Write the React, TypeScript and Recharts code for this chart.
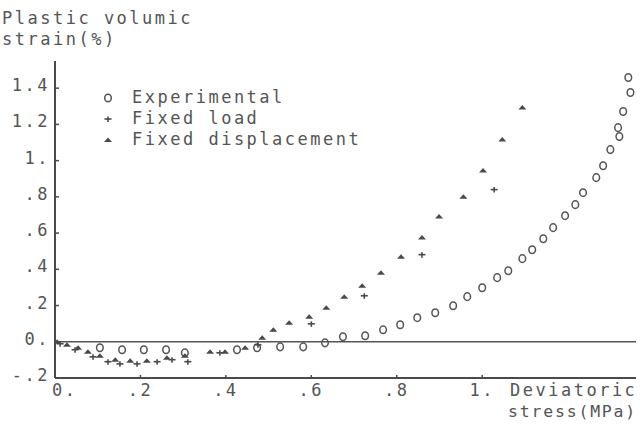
import { ScatterChart, Scatter, XAxis, YAxis, ReferenceLine } from "recharts";

// Experimental points (deviatoric stress MPa, plastic volumic strain %)
const expStress = [0.105, 0.157, 0.208, 0.26, 0.304, 0.426, 0.473, 0.527, 0.581, 0.632, 0.674, 0.726, 0.768, 0.808, 0.848, 0.89, 0.932, 0.965, 1.0, 1.035, 1.061, 1.094, 1.117, 1.143, 1.166, 1.194, 1.218, 1.236, 1.267, 1.283, 1.3, 1.321, 1.318, 1.33, 1.347, 1.342];
const expStrain = [-0.033, -0.044, -0.044, -0.044, -0.061, -0.044, -0.033, -0.028, -0.028, -0.006, 0.028, 0.033, 0.066, 0.094, 0.133, 0.16, 0.199, 0.249, 0.298, 0.354, 0.392, 0.459, 0.508, 0.569, 0.63, 0.696, 0.757, 0.823, 0.906, 0.972, 1.061, 1.133, 1.182, 1.271, 1.376, 1.459];

// Fixed load model
const loadStress = [0.012, 0.047, 0.089, 0.124, 0.152, 0.192, 0.239, 0.274, 0.311, 0.386, 0.475, 0.6, 0.724, 0.859, 1.028];
const loadStrain = [-0.011, -0.044, -0.083, -0.11, -0.122, -0.122, -0.11, -0.099, -0.11, -0.061, -0.017, 0.099, 0.254, 0.481, 0.84];

// Fixed displacement model
const dispStress = [0.005, 0.028, 0.054, 0.077, 0.105, 0.141, 0.176, 0.215, 0.262, 0.304, 0.363, 0.398, 0.445, 0.485, 0.511, 0.548, 0.595, 0.635, 0.677, 0.719, 0.763, 0.81, 0.859, 0.899, 0.956, 1.002, 1.047, 1.094];
const dispStrain = [0.0, -0.017, -0.033, -0.055, -0.077, -0.099, -0.105, -0.105, -0.088, -0.077, -0.055, -0.055, -0.033, 0.022, 0.066, 0.105, 0.138, 0.188, 0.249, 0.309, 0.381, 0.47, 0.575, 0.691, 0.801, 0.945, 1.116, 1.293];

const xTicks = [0, 0.2, 0.4, 0.6, 0.8, 1.0];
const yTicks = [-0.2, 0, 0.2, 0.4, 0.6, 0.8, 1.0, 1.2, 1.4];

const INK = "#4a4a4a";
const FONT = "'DejaVu Sans Mono', monospace";
const textStyle = { fontFamily: FONT, fontSize: 17, letterSpacing: 2.5, fill: "#555" };

const toPoints = (xs: number[], ys: number[]) => xs.map((x, i) => ({ x, y: ys[i] }));

// plotter style labels: "0.", ".2", "1.", "-.2"
function fmt(v: number) {
  const r = Math.round(v * 10) / 10;
  if (r === 0) return "0.";
  if (Number.isInteger(r)) return `${r}.`;
  return r.toFixed(1).replace(/^(-?)0\./, "$1.");
}

const Circle = (p: any) => (
  <ellipse cx={p.cx} cy={p.cy} rx={3.3} ry={3.8} fill="none" stroke="#555" strokeWidth={1.5} />
);
const Plus = (p: any) => (
  <g stroke={INK} strokeWidth={1.6}>
    <line x1={p.cx - 3.5} y1={p.cy} x2={p.cx + 3.5} y2={p.cy} />
    <line x1={p.cx} y1={p.cy - 2.5} x2={p.cx} y2={p.cy + 3} />
  </g>
);
const Tri = (p: any) => (
  <path d={`M${p.cx - 4},${p.cy + 2} L${p.cx + 4},${p.cy + 2} L${p.cx},${p.cy - 2.5} Z`} fill={INK} />
);

const XTick = (p: any) => (
  <g>
    <line x1={p.x} y1={p.y} x2={p.x} y2={p.y - 3} stroke={INK} strokeWidth={1.5} />
    <text x={p.payload.value === 0 ? p.x - 3 : p.x} y={p.y + 18} textAnchor={p.payload.value === 0 ? "start" : "middle"} style={textStyle}>
      {fmt(p.payload.value)}
    </text>
  </g>
);
const YTick = (p: any) => (
  <g>
    <line x1={p.x} y1={p.y} x2={p.x + 4} y2={p.y} stroke={INK} strokeWidth={1.5} />
    <text x={p.x - 5} y={p.y + 3} textAnchor="end" style={textStyle}>
      {fmt(p.payload.value)}
    </text>
  </g>
);

export default function App() {
  return (
    <div style={{ position: "absolute", left: 0, top: 0, width: 640, height: 424, background: "#fff" }}>
      <ScatterChart width={640} height={424} margin={{ top: 61, right: 4, bottom: 0, left: 0 }}>
        <XAxis
          type="number"
          dataKey="x"
          domain={[0, 1.36]}
          ticks={xTicks}
          tick={<XTick />}
          tickSize={0}
          tickMargin={0}
          tickLine={false}
          height={46}
          axisLine={{ stroke: INK, strokeWidth: 2 }}
          allowDataOverflow
        />
        <YAxis
          type="number"
          dataKey="y"
          domain={[-0.2, 1.55]}
          ticks={yTicks}
          tick={<YTick />}
          tickSize={0}
          tickMargin={0}
          tickLine={false}
          width={55}
          axisLine={{ stroke: INK, strokeWidth: 2 }}
          allowDataOverflow
        />
        <ReferenceLine y={0} stroke="#555" strokeWidth={1.5} />
        <Scatter name="Experimental" data={toPoints(expStress, expStrain)} shape={<Circle />} isAnimationActive={false} />
        <Scatter name="Fixed load" data={toPoints(loadStress, loadStrain)} shape={<Plus />} isAnimationActive={false} />
        <Scatter name="Fixed displacement" data={toPoints(dispStress, dispStrain)} shape={<Tri />} isAnimationActive={false} />
      </ScatterChart>
      <svg width={640} height={424} style={{ position: "absolute", left: 0, top: 0, pointerEvents: "none" }}>
        <text x={2} y={24} style={textStyle}>Plastic volumic</text>
        <text x={2} y={45} style={textStyle}>strain(%)</text>
        <text x={510} y={396} style={textStyle}>Deviatoric</text>
        <text x={508} y={417} style={{ ...textStyle, fontSize: 16.5, letterSpacing: 1.8 }}>stress(MPa)</text>
        <Circle cx={108} cy={98} />
        <text x={132} y={103} style={textStyle}>Experimental</text>
        <Plus cx={108} cy={119} />
        <text x={132} y={124} style={textStyle}>Fixed load</text>
        <Tri cx={108} cy={140} />
        <text x={132} y={145} style={textStyle}>Fixed displacement</text>
      </svg>
    </div>
  );
}
